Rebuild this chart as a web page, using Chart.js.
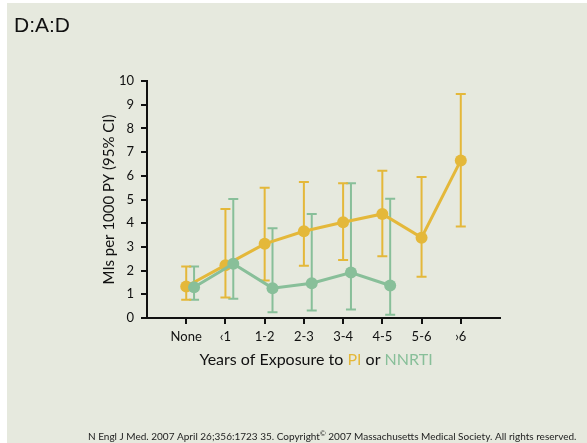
<!DOCTYPE html>
<html>
<head>
<meta charset="utf-8">
<script src="https://cdn.jsdelivr.net/npm/chart.js@4.4.0/dist/chart.umd.min.js"></script>
<style>
  html, body { margin: 0; padding: 0; background: #ffffff; }
  #wrap { width: 587px; height: 443px; }
</style>
</head>
<body>
<div id="wrap"><canvas id="myChart" width="587" height="443"></canvas></div>
<script>
const categories = ['None', '\u20391', '1-2', '2-3', '3-4', '4-5', '5-6', '\u203a6'];
const yTicks = [0, 1, 2, 3, 4, 5, 6, 7, 8, 9, 10];

// PI
const piValues = [1.33, 2.23, 3.13, 3.66, 4.04, 4.39, 3.39, 6.65];
const piLow = [0.77, 0.87, 1.58, 2.20, 2.45, 2.61, 1.74, 3.86];
const piHigh = [2.17, 4.60, 5.50, 5.74, 5.69, 6.21, 5.95, 9.45];

// NNRTI
const nnrtiValues = [1.30, 2.29, 1.26, 1.47, 1.92, 1.37];
const nnrtiLow = [0.77, 0.81, 0.24, 0.32, 0.36, 0.14];
const nnrtiHigh = [2.17, 5.02, 3.79, 4.39, 5.69, 5.03];

const yellow = '#e4b83a';
const green = '#88bf99';
const nnrtiShift = 0.2;

const toPoints = (vals, shift) => vals.map((v, i) => ({ x: i + shift, y: v }));

const errorBars = {
  id: 'errorBars',
  beforeDatasetsDraw(chart) {
    const { ctx } = chart;
    const xs = chart.scales.x;
    const ys = chart.scales.y;
    ctx.save();
    chart.data.datasets.forEach((ds) => {
      ctx.strokeStyle = ds.borderColor;
      ctx.lineWidth = 2;
      ds.data.forEach((p, i) => {
        const x = xs.getPixelForValue(p.x);
        const top = ys.getPixelForValue(ds.high[i]);
        const bot = ys.getPixelForValue(ds.low[i]);
        ctx.beginPath();
        ctx.moveTo(x, top);
        ctx.lineTo(x, bot);
        ctx.moveTo(x - 5, top);
        ctx.lineTo(x + 5, top);
        ctx.moveTo(x - 5, bot);
        ctx.lineTo(x + 5, bot);
        ctx.stroke();
      });
    });
    ctx.restore();
  },
};

const background = {
  id: 'background',
  beforeDraw(chart) {
    const { ctx } = chart;
    ctx.save();
    ctx.fillStyle = '#e6e9de';
    ctx.fillRect(7, 3, chart.width - 7, chart.height - 3);
    ctx.restore();
  },
};

const texts = {
  id: 'texts',
  afterDraw(chart) {
    const { ctx, chartArea } = chart;
    ctx.save();
    // title
    ctx.fillStyle = '#111';
    ctx.font = '21px "Liberation Sans", Arial, sans-serif';
    ctx.textBaseline = 'alphabetic';
    ctx.textAlign = 'left';
    ctx.fillText('D:A:D', 14, 32);

    // y axis title
    ctx.save();
    ctx.translate(114, (chartArea.top + chartArea.bottom) / 2);
    ctx.rotate(-Math.PI / 2);
    ctx.textAlign = 'center';
    ctx.font = '15px Lato, sans-serif';
    ctx.fillStyle = '#111';
    ctx.fillText('MIs per 1000 PY (95% CI)', 0, 0);
    ctx.restore();

    // x axis title, multi colour
    const parts = [
      ['Years of Exposure to ', '#111'],
      ['PI', yellow],
      [' or ', '#111'],
      ['NNRTI', green],
    ];
    ctx.font = '16px Lato, sans-serif';
    const total = parts.reduce((s, p) => s + ctx.measureText(p[0]).width, 0);
    let x = 316 - total / 2;
    parts.forEach(([t, c]) => {
      ctx.fillStyle = c;
      ctx.fillText(t, x, 365);
      x += ctx.measureText(t).width;
    });

    // footer
    ctx.fillStyle = '#222';
    ctx.font = '10px Lato, sans-serif';
    const a = 'N Engl J Med. 2007 April 26;356:1723 35. Copyright';
    const b = ' 2007 Massachusetts Medical Society. All rights reserved.';
    let fx = 88;
    ctx.fillText(a, fx, 440);
    fx += ctx.measureText(a).width;
    ctx.font = '7px Lato, sans-serif';
    ctx.fillText('\u00a9', fx, 436);
    fx += ctx.measureText('\u00a9').width;
    ctx.font = '10px Lato, sans-serif';
    ctx.fillText(b, fx, 440);
    ctx.restore();
  },
};

new Chart(document.getElementById('myChart'), {
  type: 'line',
  data: {
    datasets: [
      {
        label: 'NNRTI',
        data: toPoints(nnrtiValues, nnrtiShift),
        low: nnrtiLow,
        high: nnrtiHigh,
        borderColor: green,
        backgroundColor: green,
        borderWidth: 3,
        pointRadius: 6,
        pointBorderWidth: 0,
        tension: 0,
      },
      {
        label: 'PI',
        data: toPoints(piValues, 0),
        low: piLow,
        high: piHigh,
        borderColor: yellow,
        backgroundColor: yellow,
        borderWidth: 3,
        pointRadius: 6,
        pointBorderWidth: 0,
        tension: 0,
      },
    ],
  },
  options: {
    responsive: false,
    animation: false,
    layout: { padding: { left: 0, right: 87, top: 81, bottom: 0 } },
    plugins: {
      legend: { display: false },
      tooltip: { enabled: false },
    },
    scales: {
      x: {
        type: 'linear',
        min: -1,
        max: 8,
        afterFit(scale) { scale.height = 125; },
        afterBuildTicks(scale) {
          scale.ticks = categories.map((c, i) => ({ value: i }));
        },
        ticks: {
          callback: (v) => categories[v],
          color: '#111',
          font: { family: 'Lato', size: 13 },
          padding: 5,
          maxRotation: 0,
          autoSkip: false,
        },
        grid: {
          drawOnChartArea: false,
          drawTicks: true,
          tickLength: 6,
          color: '#111',
          lineWidth: 2,
        },
        border: { display: true, color: '#111', width: 2 },
      },
      y: {
        min: 0,
        max: 10,
        afterFit(scale) { scale.width = 147; },
        afterBuildTicks(scale) {
          scale.ticks = yTicks.map((v) => ({ value: v }));
        },
        ticks: {
          color: '#111',
          font: { family: 'Lato', size: 13 },
          padding: 7,
        },
        grid: {
          drawOnChartArea: false,
          drawTicks: true,
          tickLength: 6,
          color: '#111',
          lineWidth: 2,
        },
        border: { display: true, color: '#111', width: 2 },
      },
    },
  },
  plugins: [background, errorBars, texts],
});
</script>
</body>
</html>
